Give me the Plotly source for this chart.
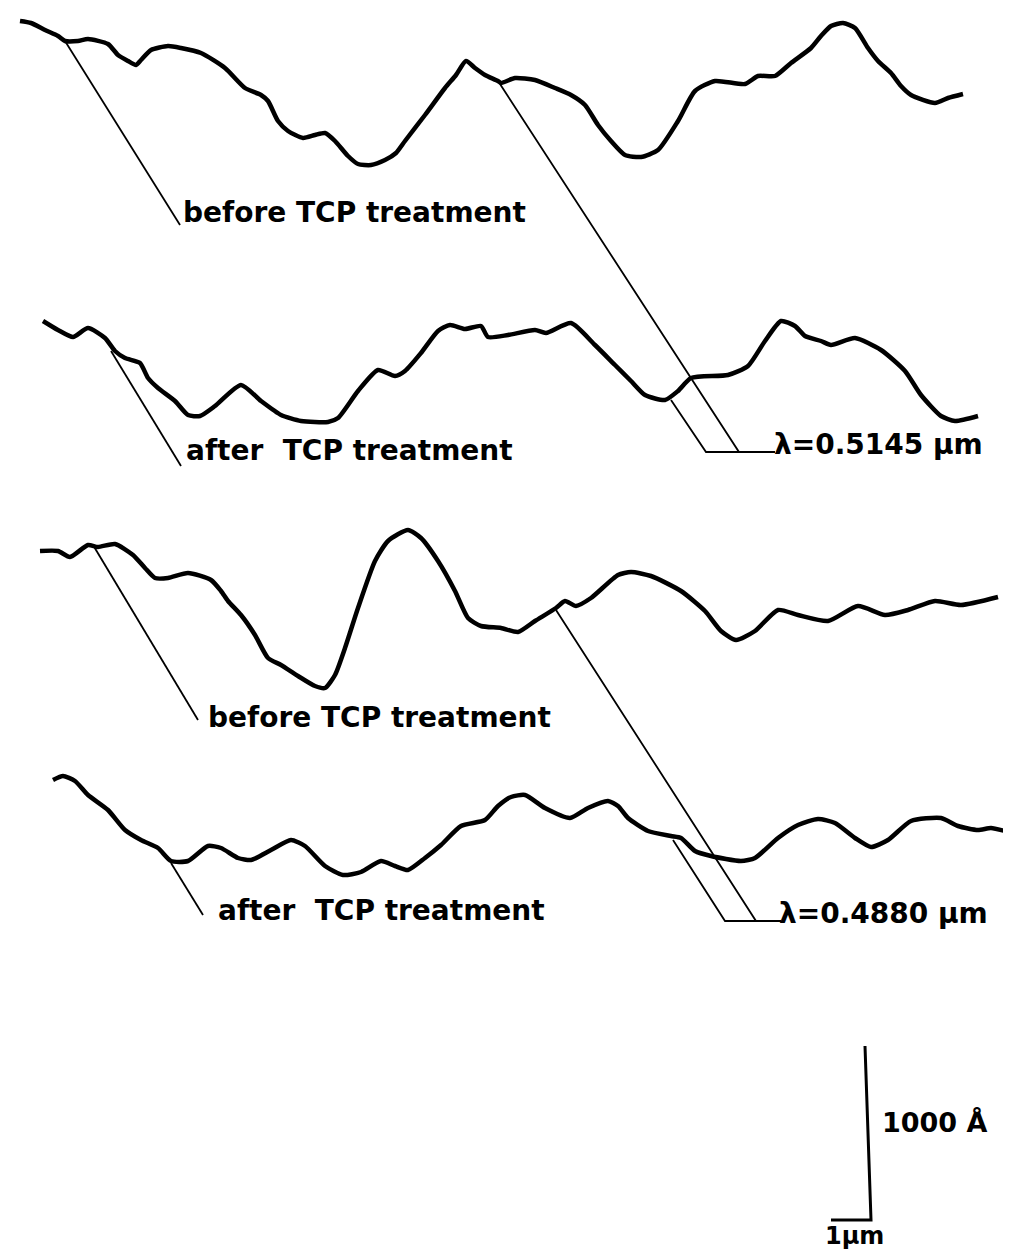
import plotly.graph_objects as go

# Surface profiles (traced positions, horizontal / vertical in figure units)
before1_x = [12, 23, 37, 50, 57, 70, 80, 100, 110, 120, 128, 133, 143, 160, 173, 193, 217, 237, 253, 260, 270, 280, 295, 307, 317, 327, 340, 350, 363, 377, 388, 397, 417, 437, 448, 458, 467, 477, 490, 493, 507, 527, 547, 563, 577, 590, 603, 617, 633, 650, 670, 687, 707, 737, 750, 767, 783, 803, 813, 823, 835, 847, 860, 870, 883, 893, 903, 927, 940, 955]
before1_y = [13, 15, 22, 28, 33, 33, 31, 36, 47, 53, 57, 52, 42, 38, 40, 45, 60, 80, 87, 93, 113, 123, 130, 127, 125, 133, 148, 156, 157, 152, 145, 133, 107, 80, 67, 53, 60, 67, 73, 75, 70, 72, 80, 87, 97, 117, 133, 147, 149, 142, 113, 83, 73, 76, 68, 68, 55, 40, 28, 18, 15, 20, 40, 53, 65, 78, 87, 95, 90, 86]

after1_x = [35, 50, 65, 80, 97, 107, 117, 132, 140, 150, 167, 180, 192, 207, 233, 253, 273, 293, 320, 330, 350, 370, 387, 397, 413, 430, 442, 457, 473, 480, 500, 527, 538, 563, 587, 607, 623, 637, 657, 670, 683, 720, 740, 757, 773, 787, 797, 813, 823, 847, 873, 897, 913, 933, 947, 970]
after1_y = [313, 322, 329, 320, 330, 343, 350, 355, 370, 380, 393, 407, 408, 398, 377, 393, 407, 413, 414, 410, 383, 362, 368, 363, 345, 323, 317, 321, 318, 329, 327, 322, 325, 315, 337, 357, 373, 387, 392, 383, 370, 367, 358, 333, 313, 318, 328, 333, 337, 330, 342, 363, 387, 408, 413, 408]

before2_x = [32, 50, 62, 80, 90, 107, 125, 137, 147, 160, 180, 203, 213, 220, 233, 247, 260, 273, 290, 307, 317, 327, 337, 350, 367, 380, 400, 413, 430, 447, 460, 473, 493, 510, 527, 548, 557, 568, 583, 610, 623, 643, 673, 697, 713, 728, 747, 770, 790, 820, 850, 877, 900, 927, 953, 990]
before2_y = [543, 543, 549, 537, 539, 536, 547, 560, 570, 570, 565, 572, 583, 593, 607, 627, 650, 657, 668, 678, 680, 667, 640, 600, 553, 533, 522, 530, 553, 583, 610, 618, 620, 624, 613, 600, 593, 598, 590, 567, 564, 568, 583, 603, 623, 632, 623, 602, 607, 613, 598, 607, 602, 593, 597, 589]

after2_x = [45, 55, 67, 80, 100, 117, 133, 150, 163, 180, 200, 213, 230, 243, 263, 283, 297, 317, 335, 353, 373, 387, 400, 417, 433, 453, 477, 490, 503, 517, 537, 562, 580, 600, 610, 620, 640, 663, 673, 687, 703, 733, 747, 770, 790, 810, 827, 847, 863, 880, 903, 933, 950, 970, 983, 997]
after2_y = [772, 768, 773, 787, 802, 822, 832, 840, 853, 853, 838, 840, 850, 852, 842, 832, 838, 858, 867, 864, 853, 858, 862, 850, 837, 818, 812, 798, 789, 787, 800, 810, 800, 793, 798, 810, 823, 828, 830, 843, 848, 853, 850, 830, 817, 811, 815, 830, 839, 832, 813, 810, 818, 822, 820, 823]

labels = ["before TCP treatment", "after  TCP treatment", "before TCP treatment", "after  TCP treatment"]
wavelengths = ["λ=0.5145 μm", "λ=0.4880 μm"]
scale_labels = ["1000 Å", "1μm"]

# leader lines (start/end points)
leaders = [
    ([57, 172], [33, 217]),
    ([103, 173], [343, 458]),
    ([85, 190], [537, 712]),
    ([163, 195], [855, 907]),
    ([492, 731, 767], [76, 444, 444]),
    ([663, 698, 731], [392, 444, 444]),
    ([548, 748, 773], [602, 913, 913]),
    ([665, 717, 748], [832, 913, 913]),
]

fig = go.Figure()
for xs, ys in [(before1_x, before1_y), (after1_x, after1_y), (before2_x, before2_y), (after2_x, after2_y)]:
    fig.add_trace(go.Scatter(x=xs, y=ys, mode="lines", line=dict(color="black", width=4.5, shape="spline", smoothing=0.6), hoverinfo="skip"))
for xs, ys in leaders:
    fig.add_trace(go.Scatter(x=xs, y=ys, mode="lines", line=dict(color="black", width=1.8), hoverinfo="skip"))

# scale bar
fig.add_trace(go.Scatter(x=[857, 863, 823], y=[1038, 1212, 1212], mode="lines", line=dict(color="black", width=3), hoverinfo="skip"))

font = dict(family="DejaVu Sans", size=28, color="black")
label_pos = [(173, 204), (176, 442), (198, 709), (208, 902)]
for t, (x, y) in zip(labels, label_pos):
    fig.add_annotation(x=x, y=y, text="<b>" + t + "</b>", showarrow=False, xanchor="left", yanchor="middle", font=font)
for t, (x, y) in zip(wavelengths, [(764, 436), (769, 905)]):
    fig.add_annotation(x=x, y=y, text="<b>" + t + "</b>", showarrow=False, xanchor="left", yanchor="middle", font=dict(family="DejaVu Sans", size=28, color="black"))
fig.add_annotation(x=872, y=1114, text="<b>" + scale_labels[0] + "</b>", showarrow=False, xanchor="left", yanchor="middle", font=dict(family="DejaVu Sans", size=27, color="black"))
fig.add_annotation(x=815, y=1228, text="<b>" + scale_labels[1] + "</b>", showarrow=False, xanchor="left", yanchor="middle", font=dict(family="DejaVu Sans", size=24, color="black"))

fig.update_layout(
    width=1011, height=1259, margin=dict(l=0, r=0, t=0, b=0),
    paper_bgcolor="white", plot_bgcolor="white", showlegend=False,
    xaxis=dict(range=[0, 1011], visible=False, fixedrange=True),
    yaxis=dict(range=[1259, 0], visible=False, fixedrange=True),
)
fig.write_html("out.html")
